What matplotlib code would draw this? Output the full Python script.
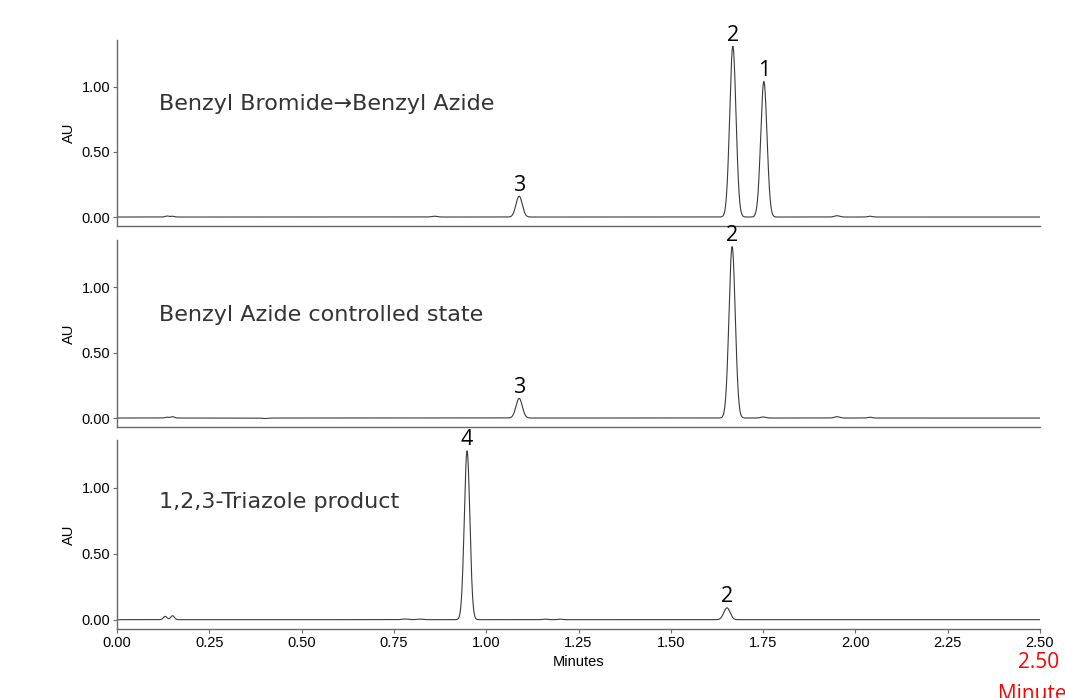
import numpy as np
import matplotlib.pyplot as plt

# ---------------------------
# peak tables (min, AU, sigma)
# ---------------------------
panel_titles = ["Benzyl Bromide\u2192Benzyl Azide",
                "Benzyl Azide controlled state",
                "1,2,3-Triazole product"]
title_y = [0.656, 0.60, 0.675]   # axes fraction

p1_rt = [0.135, 0.150, 0.860, 1.089, 1.668, 1.752, 1.950, 2.040]
p1_h = [0.008, 0.006, 0.006, 0.160, 1.310, 1.040, 0.010, 0.006]
p1_w = [0.005, 0.005, 0.008, 0.0085, 0.0085, 0.0085, 0.007, 0.006]
p1_lab = ["", "", "", "3", "2", "1", "", ""]

p2_rt = [0.135, 0.150, 0.400, 1.089, 1.666, 1.750, 1.950, 2.040]
p2_h = [0.006, 0.010, -0.004, 0.150, 1.310, 0.008, 0.010, 0.006]
p2_w = [0.005, 0.005, 0.008, 0.0085, 0.0085, 0.007, 0.007, 0.006]
p2_lab = ["", "", "", "3", "2", "", "", ""]

p3_rt = [0.130, 0.150, 0.780, 0.820, 0.948, 1.160, 1.200, 1.652]
p3_h = [0.025, 0.030, 0.005, 0.005, 1.280, 0.004, 0.004, 0.090]
p3_w = [0.005, 0.005, 0.008, 0.008, 0.0075, 0.006, 0.006, 0.0085]
p3_lab = ["", "", "", "", "4", "", "", "2"]

panels = [(p1_rt, p1_h, p1_w, p1_lab),
          (p2_rt, p2_h, p2_w, p2_lab),
          (p3_rt, p3_h, p3_w, p3_lab)]

x_ticks = [0.00, 0.25, 0.50, 0.75, 1.00, 1.25, 1.50, 1.75, 2.00, 2.25, 2.50]
y_ticks = [0.00, 0.50, 1.00]

# axes boxes in figure coords [left, bottom, width, height]
boxes = [[0.110, 0.676, 0.8665, 0.267],
         [0.110, 0.388, 0.8665, 0.268],
         [0.110, 0.099, 0.8665, 0.270]]

line_col = "#3a3a3a"
spine_col = "#6a6a6a"

fig = plt.figure(figsize=(10.65, 6.98), dpi=100)

t = np.linspace(0, 2.5, 5001)

for i, (rt, h, w, lab) in enumerate(panels):
    ax = fig.add_axes(boxes[i])
    trace = np.zeros_like(t)
    for r, hh, ww in zip(rt, h, w):
        trace += hh * np.exp(-0.5 * ((t - r) / ww) ** 2)
    ax.plot(t, trace, color=line_col, lw=0.8)

    for r, hh, l in zip(rt, h, lab):
        if l:
            ax.annotate(l, (r, hh), xytext=(0, 4), textcoords="offset points",
                        ha="center", va="baseline", fontsize=15.5,
                        family="Open Sans", color="black")

    ax.text(0.045, title_y[i], panel_titles[i],
            transform=ax.transAxes, fontsize=16, family="DejaVu Sans",
            color="#333333", ha="left", va="center")

    ax.set_xlim(0, 2.5)
    ax.set_ylim(-0.07, 1.36)
    ax.set_yticks(y_ticks)
    ax.set_yticklabels([f"{v:.2f}" for v in y_ticks],
                       family="Liberation Sans", fontsize=10.5)
    ax.set_ylabel("AU", family="Liberation Sans", fontsize=10.5, labelpad=4)
    for s in ["top", "right"]:
        ax.spines[s].set_visible(False)
    for s in ["left", "bottom"]:
        ax.spines[s].set_color(spine_col)
        ax.spines[s].set_linewidth(1.0)
    ax.tick_params(axis="y", length=3, width=0.8, color=spine_col, pad=2)

    if i < 2:
        ax.set_xticks([])
    else:
        ax.set_xticks(x_ticks)
        ax.set_xticklabels([f"{v:.2f}" for v in x_ticks],
                           family="Liberation Sans", fontsize=10.5)
        ax.tick_params(axis="x", length=3, width=0.8, color=spine_col, pad=2)
        ax.set_xlabel("Minutes", family="Liberation Sans", fontsize=10.5,
                      labelpad=4)

# stray red axis label at bottom right (cut off in the original too)
fig.text(1018 / 1065, 1 - 663 / 698, "2.50", color="red", fontsize=15,
         family="Open Sans", ha="left", va="center")
fig.text(998 / 1065, 1 - 694 / 698, "Minutes", color="red", fontsize=15,
         family="Open Sans", ha="left", va="center")

fig.savefig("out.png", dpi=100)
